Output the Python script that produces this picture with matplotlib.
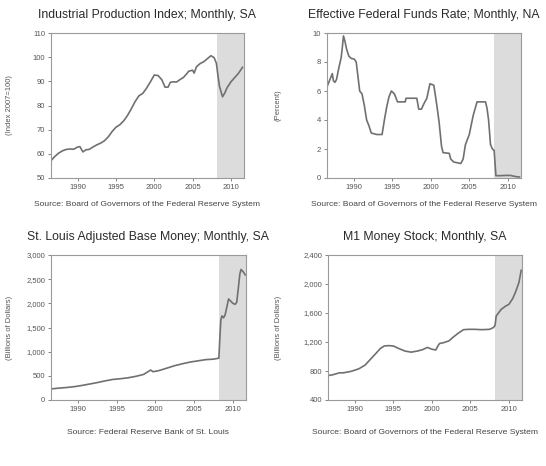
import matplotlib
matplotlib.use("Agg")
import matplotlib.pyplot as plt
from matplotlib.ticker import FuncFormatter

plt.rcParams['font.family'] = ['Liberation Sans', 'DejaVu Sans']

# Industrial production index (2007=100)
ip_t = [1987.0, 1987.5, 1988.0, 1988.5, 1989.0, 1989.5, 1990.0, 1990.5, 1990.8, 1991.2,
        1991.6, 1992.0, 1992.5, 1993.0, 1993.5, 1994.0, 1994.5, 1995.0, 1995.5, 1996.0,
        1996.5, 1997.0, 1997.5, 1998.0, 1998.5, 1999.0, 1999.5, 2000.0, 2000.5, 2001.0,
        2001.5, 2001.9, 2002.3, 2002.6, 2003.0, 2003.4, 2003.8, 2004.3, 2004.7, 2005.0,
        2005.5, 2005.7, 2006.0, 2006.5, 2007.0, 2007.5, 2007.9, 2008.3, 2008.6, 2008.8,
        2009.0, 2009.4, 2009.7, 2010.0, 2010.5, 2011.0, 2011.5, 2012.0]
ip_v = [57.0, 58.8, 60.2, 61.2, 61.8, 62.0, 61.9, 62.8, 63.0, 60.8,
        61.7, 61.8, 62.8, 63.7, 64.4, 65.4, 67.0, 69.2, 71.0, 72.0,
        73.6, 75.8, 78.6, 81.6, 84.0, 85.0, 87.2, 89.8, 92.6, 92.4,
        90.6, 87.6, 87.6, 89.6, 89.8, 89.7, 90.6, 91.6, 93.0, 94.2,
        94.6, 93.4, 96.0, 97.4, 98.2, 99.6, 100.6, 99.8, 97.5, 92.5,
        88.0, 83.6, 85.2, 87.4, 89.8, 91.6, 93.4, 95.8]

# Effective federal funds rate (percent)
ff_t = [1987.0, 1987.3, 1987.45, 1987.75, 1987.9, 1988.1, 1988.3, 1988.6, 1988.9, 1989.05,
        1989.2, 1989.4, 1989.6, 1989.9, 1990.2, 1990.6, 1990.85, 1991.1, 1991.3, 1991.6,
        1991.9, 1992.2, 1992.5, 1992.8, 1993.5, 1994.2, 1994.5, 1994.8, 1995.1, 1995.4,
        1995.8, 1996.2, 1997.2, 1997.3, 1998.7, 1998.95, 1999.3, 1999.6, 2000.0, 2000.4,
        2000.9, 2001.05, 2001.3, 2001.6, 2001.9, 2002.1, 2002.9, 2003.1, 2003.5, 2004.4,
        2004.7, 2005.0, 2005.5, 2006.0, 2006.5, 2007.6, 2007.8, 2008.0, 2008.25, 2008.5,
        2008.72, 2008.85, 2008.95, 2009.5, 2010.3, 2010.8, 2011.3, 2011.6, 2012.0]
ff_v = [6.2, 6.6, 6.8, 7.2, 6.7, 6.6, 6.8, 7.6, 8.3, 9.0,
        9.8, 9.4, 8.9, 8.4, 8.25, 8.2, 8.0, 6.9, 6.0, 5.8,
        5.0, 4.0, 3.6, 3.1, 3.0, 3.0, 4.0, 4.9, 5.6, 6.0,
        5.8, 5.25, 5.25, 5.5, 5.5, 4.75, 4.75, 5.1, 5.5, 6.5,
        6.4, 5.9, 5.0, 3.8, 2.2, 1.75, 1.7, 1.3, 1.1, 1.0,
        1.3, 2.3, 3.0, 4.3, 5.25, 5.25, 4.8, 4.0, 2.3, 2.0,
        1.9, 0.9, 0.16, 0.16, 0.18, 0.18, 0.12, 0.09, 0.07]

# St. Louis adjusted base money (billions of dollars)
bm_t = [1987.0, 1988.0, 1989.0, 1990.0, 1991.0, 1992.0, 1993.0, 1994.0, 1995.0, 1996.0,
        1997.0, 1998.0, 1999.0, 1999.9, 2000.2, 2001.0, 2002.0, 2003.0, 2004.0, 2005.0,
        2006.0, 2007.0, 2008.0, 2008.7, 2008.8, 2008.95, 2009.1, 2009.3, 2009.5, 2009.7,
        2009.95, 2010.2, 2010.5, 2010.8, 2011.0, 2011.2, 2011.4, 2011.55, 2011.8, 2012.1]
bm_v = [228, 245, 258, 275, 300, 330, 360, 395, 425, 440,
        460, 490, 530, 620, 585, 610, 660, 710, 750, 785,
        810, 835, 845, 865, 1200, 1650, 1740, 1700, 1760, 1900,
        2090, 2050, 2000, 1980, 2020, 2300, 2600, 2700, 2660, 2590]

# M1 money stock (billions of dollars)
m1_t = [1987.0, 1987.5, 1988.0, 1988.5, 1989.0, 1990.0, 1991.0, 1991.8, 1992.5, 1993.2,
        1993.8, 1994.3, 1994.9, 1995.5, 1996.2, 1997.0, 1997.8, 1998.6, 1999.3, 1999.9,
        2000.5, 2001.0, 2001.3, 2001.5, 2002.0, 2002.7, 2003.3, 2003.9, 2004.6, 2005.3,
        2006.0, 2007.0, 2008.0, 2008.5, 2008.7, 2008.85, 2009.0, 2009.5, 2010.0, 2010.5,
        2011.0, 2011.4, 2011.8, 2012.1]
m1_v = [738, 745, 760, 775, 775, 795, 830, 880, 960, 1040,
        1110, 1145, 1150, 1145, 1110, 1075, 1060, 1075, 1095, 1125,
        1100, 1090, 1150, 1180, 1190, 1215, 1270, 1320, 1370, 1375,
        1375, 1370, 1375, 1400, 1430, 1560, 1580, 1650, 1690, 1720,
        1800, 1900, 2020, 2190]

titles = ["Industrial Production Index; Monthly, SA",
          "Effective Federal Funds Rate; Monthly, NA",
          "St. Louis Adjusted Base Money; Monthly, SA",
          "M1 Money Stock; Monthly, SA"]
ylabels = ["(Index 2007=100)", "(Percent)", "(Billions of Dollars)", "(Billions of Dollars)"]
sources = ["Source: Board of Governors of the Federal Reserve System",
           "Source: Board of Governors of the Federal Reserve System",
           "Source: Federal Reserve Bank of St. Louis",
           "Source: Board of Governors of the Federal Reserve System"]
yticks = [range(50, 111, 10), range(0, 11, 2), range(0, 3001, 500), range(400, 2401, 400)]
xtick_years = [1990, 1995, 2000, 2005, 2010]

W, H = 546, 466
fig = plt.figure(figsize=(W / 100, H / 100), dpi=100)
fig.patch.set_facecolor("white")

boxes = [(50.7, 33, 244, 178), (326.5, 33, 521, 178),
         (50.7, 255, 246, 400), (328, 255, 522, 400)]
ylab_x = [10, 278, 10, 278]
src_gap = [26, 26, 32, 32]
series = [(ip_t, ip_v), (ff_t, ff_v), (bm_t, bm_v), (m1_t, m1_v)]

for i in range(4):
    l, t, r, b = boxes[i]
    ax = fig.add_axes([l / W, 1 - b / H, (r - l) / W, (b - t) / H])
    x, y = series[i]
    ax.axvspan(2008.7, 2013, color="#dcdcdc", lw=0)
    ax.plot(x, y, color="#707070", lw=1.2)
    ax.set_xlim(1987.0, 2012.2)
    yt = list(yticks[i])
    ax.set_ylim(yt[0], yt[-1])
    ax.set_yticks(yt)
    ax.set_xticks([yr + 0.5 for yr in xtick_years])
    ax.set_xticklabels([str(yr) for yr in xtick_years])
    if yt[-1] >= 1000:
        ax.yaxis.set_major_formatter(FuncFormatter(lambda v, p: f"{int(v):,}"))
    ax.tick_params(labelsize=5.5, colors="#555555", length=2, width=0.5, pad=2)
    for s in ax.spines.values():
        s.set_color("#9a9a9a")
        s.set_linewidth(0.8)
    cx = (l + r) / 2
    fig.text(cx / W, 1 - (t - 18) / H, titles[i], ha="center", va="center",
             fontsize=8.8, color="#2a2a2a")
    fig.text(cx / W, 1 - (b + src_gap[i]) / H, sources[i], ha="center", va="center",
             fontsize=6.1, color="#444444")
    fig.text(ylab_x[i] / W, 1 - (t + b) / 2 / H, ylabels[i], rotation=90,
             ha="center", va="center", fontsize=5.5, color="#555555")

fig.savefig("out.png", dpi=100)
